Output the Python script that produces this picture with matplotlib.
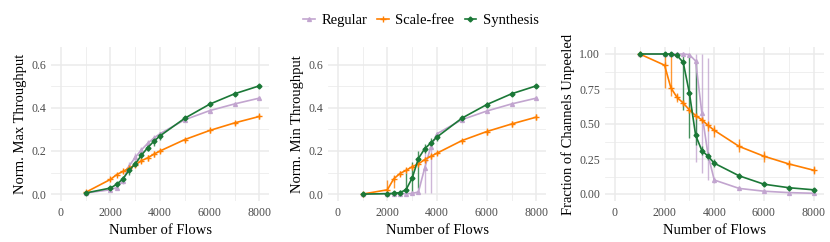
import matplotlib
matplotlib.use("Agg")
import matplotlib.pyplot as plt
from matplotlib.ticker import MultipleLocator
import numpy as np

plt.rcParams['font.family'] = ['Liberation Serif', 'DejaVu Serif']

flows = [1000, 2000, 2250, 2500, 2750, 3000, 3250, 3500, 3750, 4000, 5000, 6000, 7000, 8000]
series_names = ["Regular", "Scale-free", "Synthesis"]

# Panel 1: Norm. Max Throughput
reg_max = [0.005, 0.02, 0.03, 0.06, 0.13, 0.17, 0.205, 0.235, 0.26, 0.28, 0.345, 0.387, 0.418, 0.445]
reg_max_lo = [0.003, 0.015, 0.02, 0.045, 0.11, 0.15, 0.19, 0.22, 0.248, 0.27, 0.337, 0.381, 0.413, 0.44]
reg_max_hi = [0.007, 0.025, 0.04, 0.075, 0.15, 0.19, 0.22, 0.25, 0.272, 0.29, 0.353, 0.393, 0.423, 0.45]
sf_max = [0.008, 0.068, 0.09, 0.105, 0.12, 0.135, 0.155, 0.168, 0.185, 0.2, 0.253, 0.295, 0.33, 0.36]
sf_max_lo = [0.006, 0.062, 0.082, 0.097, 0.112, 0.125, 0.143, 0.153, 0.17, 0.19, 0.245, 0.285, 0.32, 0.348]
sf_max_hi = [0.01, 0.074, 0.098, 0.113, 0.128, 0.145, 0.167, 0.183, 0.2, 0.21, 0.261, 0.305, 0.34, 0.372]
syn_max = [0.005, 0.028, 0.045, 0.07, 0.11, 0.14, 0.18, 0.215, 0.245, 0.27, 0.352, 0.417, 0.465, 0.502]
syn_max_lo = [0.003, 0.023, 0.037, 0.055, 0.09, 0.125, 0.16, 0.2, 0.225, 0.25, 0.344, 0.407, 0.457, 0.496]
syn_max_hi = [0.007, 0.033, 0.053, 0.085, 0.13, 0.155, 0.2, 0.23, 0.265, 0.29, 0.36, 0.427, 0.473, 0.508]

# Panel 2: Norm. Min Throughput
reg_min = [0.0, 0.002, 0.002, 0.002, 0.002, 0.003, 0.01, 0.12, 0.22, 0.28, 0.345, 0.385, 0.418, 0.445]
reg_min_lo = [0.0, 0.0, 0.0, 0.0, 0.0, 0.0, 0.0, 0.005, 0.005, 0.26, 0.338, 0.378, 0.412, 0.44]
reg_min_hi = [0.0, 0.004, 0.004, 0.004, 0.005, 0.008, 0.03, 0.2, 0.25, 0.29, 0.352, 0.392, 0.424, 0.45]
sf_min = [0.0, 0.02, 0.07, 0.095, 0.11, 0.127, 0.14, 0.16, 0.175, 0.19, 0.248, 0.29, 0.325, 0.357]
sf_min_lo = [0.0, 0.0, 0.03, 0.085, 0.1, 0.117, 0.13, 0.15, 0.165, 0.182, 0.24, 0.275, 0.313, 0.342]
sf_min_hi = [0.0, 0.066, 0.09, 0.105, 0.12, 0.137, 0.15, 0.17, 0.185, 0.198, 0.256, 0.305, 0.337, 0.372]
syn_min = [0.0, 0.002, 0.003, 0.007, 0.02, 0.075, 0.165, 0.21, 0.237, 0.265, 0.352, 0.415, 0.465, 0.502]
syn_min_lo = [0.0, 0.0, 0.0, 0.0, 0.0, 0.0, 0.03, 0.19, 0.22, 0.245, 0.345, 0.405, 0.458, 0.496]
syn_min_hi = [0.0, 0.004, 0.006, 0.02, 0.1, 0.15, 0.2, 0.23, 0.26, 0.285, 0.36, 0.425, 0.472, 0.508]

# Panel 3: Fraction of Channels Unpeeled
reg_unp = [1.0, 1.0, 1.0, 1.0, 1.0, 0.995, 0.95, 0.58, 0.28, 0.10, 0.04, 0.02, 0.01, 0.005]
reg_unp_lo = [1.0, 1.0, 1.0, 1.0, 0.99, 0.98, 0.23, 0.15, 0.10, 0.08, 0.03, 0.015, 0.007, 0.003]
reg_unp_hi = [1.0, 1.0, 1.0, 1.0, 1.0, 1.0, 1.0, 1.0, 0.97, 0.12, 0.05, 0.025, 0.013, 0.007]
sf_unp = [1.0, 0.92, 0.76, 0.69, 0.65, 0.60, 0.56, 0.53, 0.49, 0.455, 0.34, 0.27, 0.215, 0.17]
sf_unp_lo = [1.0, 0.76, 0.70, 0.66, 0.63, 0.58, 0.54, 0.51, 0.45, 0.41, 0.30, 0.23, 0.18, 0.14]
sf_unp_hi = [1.0, 1.0, 1.0, 0.72, 0.67, 0.62, 0.58, 0.55, 0.52, 0.49, 0.39, 0.31, 0.24, 0.20]
syn_unp = [1.0, 1.0, 1.0, 0.99, 0.94, 0.72, 0.42, 0.31, 0.27, 0.22, 0.13, 0.07, 0.045, 0.03]
syn_unp_lo = [1.0, 1.0, 1.0, 0.98, 0.60, 0.40, 0.35, 0.28, 0.24, 0.19, 0.11, 0.06, 0.037, 0.024]
syn_unp_hi = [1.0, 1.0, 1.0, 1.0, 1.0, 1.0, 0.94, 0.34, 0.30, 0.25, 0.15, 0.08, 0.053, 0.036]

colors = {"Regular": "#C2A5CF", "Scale-free": "#FF7F00", "Synthesis": "#1B7837"}
markers = {"Regular": "^", "Scale-free": "+", "Synthesis": "D"}
msizes = {"Regular": 2.8, "Scale-free": 4.5, "Synthesis": 2.5}

panels = [
    ("Norm. Max Throughput",
     [(reg_max, reg_max_lo, reg_max_hi), (sf_max, sf_max_lo, sf_max_hi), (syn_max, syn_max_lo, syn_max_hi)],
     (-0.032, 0.682), [0.0, 0.2, 0.4, 0.6], ["0.0", "0.2", "0.4", "0.6"], 0.1),
    ("Norm. Min Throughput",
     [(reg_min, reg_min_lo, reg_min_hi), (sf_min, sf_min_lo, sf_min_hi), (syn_min, syn_min_lo, syn_min_hi)],
     (-0.032, 0.682), [0.0, 0.2, 0.4, 0.6], ["0.0", "0.2", "0.4", "0.6"], 0.1),
    ("Fraction of Channels Unpeeled",
     [(reg_unp, reg_unp_lo, reg_unp_hi), (sf_unp, sf_unp_lo, sf_unp_hi), (syn_unp, syn_unp_lo, syn_unp_hi)],
     (-0.05, 1.05), [0.0, 0.25, 0.5, 0.75, 1.0], ["0.00", "0.25", "0.50", "0.75", "1.00"], 0.125),
]

x_ticks = [0, 2000, 4000, 6000, 8000]
x_ticklabels = ["0", "2000", "4000", "6000", "8000"]

fig = plt.figure(figsize=(8.3, 2.42), dpi=100)
lefts = [50.8 / 830, 327.8 / 830, 605 / 830]
width = 218.5 / 830
bottom = 41 / 242
height = 154 / 242

grid_col = "#EBEBEB"
handles = []
for i, (ylabel, data, ylim, yt, ytl, yminor) in enumerate(panels):
    ax = fig.add_axes([lefts[i], bottom, width, height])
    ax.set_xlim(-400, 8400)
    ax.set_ylim(*ylim)
    ax.set_xticks(x_ticks)
    ax.set_xticklabels(x_ticklabels)
    ax.set_yticks(yt)
    ax.set_yticklabels(ytl)
    ax.xaxis.set_minor_locator(MultipleLocator(1000))
    ax.yaxis.set_minor_locator(MultipleLocator(yminor))
    ax.grid(True, which="major", color=grid_col, linewidth=1.1)
    ax.grid(True, which="minor", color=grid_col, linewidth=0.55)
    ax.set_axisbelow(True)
    for s in ax.spines.values():
        s.set_visible(False)
    ax.tick_params(which="both", length=0)
    ax.tick_params(axis="both", labelsize=8.6, labelcolor="#4D4D4D")
    ax.tick_params(axis="y", pad=3.5)
    ax.tick_params(axis="x", pad=4)
    for name, (vals, lo, hi) in zip(series_names, data):
        c = colors[name]
        ax.vlines(flows, lo, hi, colors=c, linewidth=1.0, alpha=0.8, zorder=2)
        ln, = ax.plot(flows, vals, color=c, linewidth=1.2, marker=markers[name],
                      markersize=msizes[name], markeredgewidth=1.0, zorder=3, label=name)
        if i == 0:
            handles.append(ln)
    ax.set_xlabel("Number of Flows", fontsize=10.5, labelpad=4)
    ax.set_ylabel(ylabel, fontsize=10.5, labelpad=3)

fig.legend(handles=handles, labels=series_names, loc="center", bbox_to_anchor=(0.507, 0.917),
           ncol=3, frameon=False, fontsize=10.5, handlelength=0.8, handletextpad=0.45,
           columnspacing=0.7)

fig.savefig("out.png", dpi=100)
